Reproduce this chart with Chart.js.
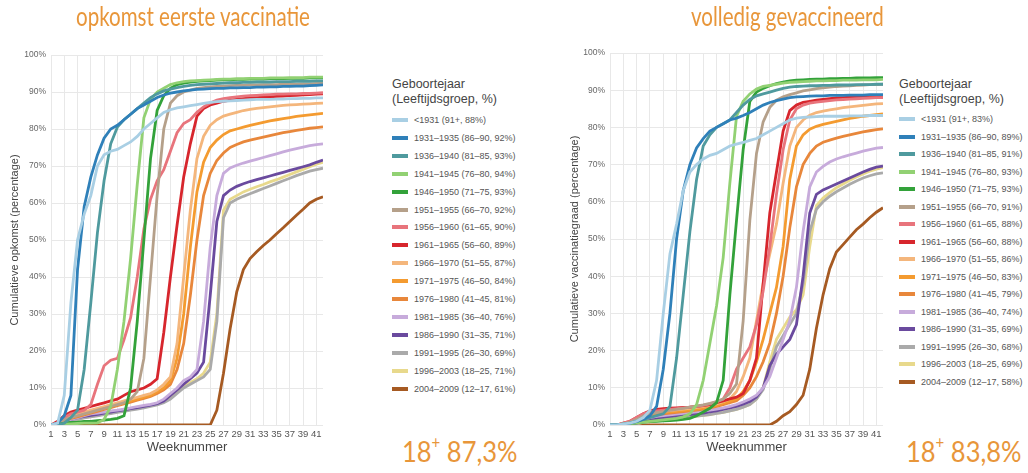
<!DOCTYPE html>
<html>
<head>
<meta charset="utf-8">
<script src="https://cdn.jsdelivr.net/npm/chart.js@4"></script>
<style>
  body { margin:0; width:1028px; height:473px; background:#fff; position:relative; overflow:hidden; font-family:'Liberation Sans', Arial, sans-serif; }
  canvas { position:absolute; top:0; }
  .title { position:absolute; color:#e8963a; font-family:Lato, 'Open Sans', sans-serif; font-size:26px; white-space:nowrap; transform-origin:0 0; transform:scaleX(0.79); }
  .total { position:absolute; color:#e8963a; font-family:Lato, 'Open Sans', sans-serif; font-size:29px; white-space:nowrap; transform-origin:0 0; transform:scaleX(0.88); }
  .total sup { font-size:17px; position:relative; top:-2px; }
  .legend { position:absolute; color:#555; font-size:9px; }
  .legend .head { color:#444; font-size:12.5px; line-height:15px; position:absolute; left:0; white-space:nowrap; }
  .legend .item { position:absolute; left:0; white-space:nowrap; height:12px; line-height:12px; }
  .legend .sw { position:absolute; left:0; top:4px; width:16px; height:4px; }
  .legend .tx { position:absolute; left:22px; top:0; }
</style>
</head>
<body>
<canvas id="left" width="330" height="473" style="left:0"></canvas>
<canvas id="right" width="330" height="473" style="left:560px"></canvas>

<div class="title" style="left:76px; top:0px">opkomst eerste vaccinatie</div>
<div class="title" style="left:691px; top:0px">volledig gevaccineerd</div>
<div class="total" style="left:402px; top:433px">18<sup>+</sup> 87,3%</div>
<div class="total" style="left:906px; top:433px">18<sup>+</sup> 83,8%</div>

<div class="legend" id="legLeft" style="left:392px; top:0"></div>
<div class="legend" id="legRight" style="left:899px; top:0"></div>

<script>
// weken en x-as labels
const weeks = [1,2,3,4,5,6,7,8,9,10,11,12,13,14,15,16,17,18,19,20,21,22,23,24,25,26,27,28,29,30,31,32,33,34,35,36,37,38,39,40,41,42];
const tickWeeks = [1,3,5,7,9,11,13,15,17,19,21,23,25,27,29,31,33,35,37,39,41];
const yTicks = [0,10,20,30,40,50,60,70,80,90,100];

const legendTitle = ['Geboortejaar', '(Leeftijdsgroep, %)'];

const labelsEerste = [
  '<1931 (91+, 88%)', '1931–1935 (86–90, 92%)', '1936–1940 (81–85, 93%)', '1941–1945 (76–80, 94%)',
  '1946–1950 (71–75, 93%)', '1951–1955 (66–70, 92%)', '1956–1960 (61–65, 90%)', '1961–1965 (56–60, 89%)',
  '1966–1970 (51–55, 87%)', '1971–1975 (46–50, 84%)', '1976–1980 (41–45, 81%)', '1981–1985 (36–40, 76%)',
  '1986–1990 (31–35, 71%)', '1991–1995 (26–30, 69%)', '1996–2003 (18–25, 71%)', '2004–2009 (12–17, 61%)'
];
const labelsVolledig = [
  '<1931 (91+, 83%)', '1931–1935 (86–90, 89%)', '1936–1940 (81–85, 91%)', '1941–1945 (76–80, 93%)',
  '1946–1950 (71–75, 93%)', '1951–1955 (66–70, 91%)', '1956–1960 (61–65, 88%)', '1961–1965 (56–60, 88%)',
  '1966–1970 (51–55, 86%)', '1971–1975 (46–50, 83%)', '1976–1980 (41–45, 79%)', '1981–1985 (36–40, 74%)',
  '1986–1990 (31–35, 69%)', '1991–1995 (26–30, 68%)', '1996–2003 (18–25, 69%)', '2004–2009 (12–17, 58%)'
];

// opkomst eerste vaccinatie (cumulatief %, per week)
const eersteLt1931 = [0,0.5,8,33,50,57,62,70,73,74,74.5,75.5,76.5,78,80,81.5,83,84.5,85.2,85.7,86,86.3,86.6,86.9,87.2,87.4,87.5,87.6,87.7,87.8,87.9,88,88,88,88.1,88.1,88.2,88.2,88.3,88.3,88.4,88.4];
const eerste1931 = [0,0.5,2.5,8,42,59,67,73,77.5,80,81,82.5,84,85.5,86.5,87.5,88.5,89.2,89.7,90,90.3,90.5,90.7,90.8,90.9,91,91,91.1,91.1,91.2,91.2,91.3,91.3,91.4,91.4,91.5,91.5,91.6,91.6,91.7,91.8,91.9];
const eerste1936 = [0,0,0.5,2,4,15,33,52,66,76,80.5,82.5,84,85.5,87,88.5,89.5,90.3,90.8,91.2,91.5,91.8,92,92.1,92.2,92.3,92.4,92.5,92.5,92.6,92.6,92.7,92.7,92.7,92.8,92.8,92.8,92.9,92.9,92.9,93,93];
const eerste1941 = [0,0,0.2,0.3,0.4,0.5,0.5,0.6,1.5,5,15,28,45,65,83,88,90,91,92,92.5,92.8,93,93.1,93.2,93.3,93.4,93.5,93.5,93.6,93.6,93.7,93.7,93.7,93.8,93.8,93.8,93.9,93.9,93.9,94,94,94];
const eerste1946 = [0,0.2,0.5,0.7,0.8,1,1,1.2,1.3,1.5,1.8,2.5,10,28,50,72,85,89,91,92,92.4,92.7,92.9,93,93.1,93.2,93.3,93.3,93.4,93.4,93.5,93.5,93.5,93.6,93.6,93.6,93.7,93.7,93.7,93.8,93.8,93.8];
const eerste1951 = [0,0.5,1.5,2,2.5,3,3.5,4,4.5,5,5.5,6,7,9,18,40,62,80,87,89,90,90.5,91,91.2,91.4,91.5,91.6,91.7,91.8,91.8,91.9,91.9,92,92,92,92.1,92.1,92.1,92.2,92.2,92.3,92.3];
const eerste1956 = [0,0.5,2,3,3.5,4,5.5,11,16,17.5,18,23,29,40,53,61,66,69,74,79,81.5,82.5,84.5,86,87,87.8,88.2,88.5,88.7,88.9,89,89.1,89.2,89.3,89.4,89.4,89.5,89.5,89.6,89.6,89.7,89.8];
const eerste1961 = [0,1,2.5,3.5,4,4.5,5,5.5,6,6.5,7,8,9,9.5,10,11,12.5,25,40,54,67,76,83.5,85.5,86.5,87,87.5,87.8,88,88.2,88.4,88.5,88.6,88.7,88.8,88.9,89,89.1,89.2,89.3,89.4,89.5];
const eerste1966 = [0,0.5,1.5,2.5,3,3.5,4,4.5,5,5.5,6,6.5,7,7.5,8,8.5,9.5,11,13,22,40,58,72,78,81,82.5,83.5,84,84.5,85,85.3,85.6,85.8,86,86.2,86.4,86.5,86.6,86.7,86.8,86.9,87];
const eerste1971 = [0,0.5,1.5,2,2.5,3,3.5,4,4.5,5,5.5,6,6.5,7,7.5,8,9,10,12,18,30,48,63,71,75,77,78.5,79.5,80,80.5,81,81.4,81.8,82.2,82.5,82.8,83.1,83.4,83.6,83.8,84,84.2];
const eerste1976 = [0,0.5,1.2,1.8,2.2,2.7,3.2,3.7,4.2,4.7,5.2,5.7,6.2,6.7,7.2,7.7,8.5,9.5,11,15,22,35,50,62,68,71.5,73.5,75,75.8,76.5,77,77.4,77.8,78.2,78.6,79,79.3,79.6,79.9,80.2,80.4,80.6];
const eerste1981 = [0,0.3,1,1.5,2,2.5,3,3.2,3.5,3.8,4,4.3,4.6,5,5.3,5.6,6,7,8.5,10,12,13,15,28,48,62,68,69.5,70.2,70.8,71.3,71.8,72.3,72.8,73.3,73.8,74.3,74.7,75.1,75.5,75.8,76];
const eerste1986 = [0,0.3,1,1.5,2,2.3,2.6,2.9,3.2,3.5,3.8,4.1,4.4,4.7,5,5.4,5.8,6.5,8,9.5,11,12.5,14,17,35,55,62,63.5,64.5,65.2,65.8,66.3,66.8,67.3,67.8,68.3,68.8,69.3,69.8,70.3,71,71.6];
const eerste1991 = [0,0.2,0.8,1.2,1.5,1.9,2.2,2.5,2.8,3.1,3.4,3.7,4,4.3,4.6,5,5.4,6,7,8.5,10,11,12,13,15,28,56,60,61,61.8,62.5,63.2,63.9,64.6,65.3,66,66.7,67.4,68,68.6,69,69.4];
const eerste1996 = [0,0.2,0.8,1.2,1.5,2,2.3,2.6,3,3.3,3.6,4,4.3,4.6,5,5.3,5.7,6.5,7.5,9,10.5,11.5,12.5,14,17,30,58,61,62,63,63.7,64.4,65,65.7,66.3,67,67.7,68.4,69.1,69.8,70.5,71];
const eerste2004 = [0,0,0,0,0,0,0,0,0,0,0,0,0,0,0,0,0,0,0,0,0,0,0,0,0,4,14,26,36,42,45,46.8,48.5,50,51.7,53.3,55,56.7,58.3,60,61,61.7];

// volledig gevaccineerd (cumulatief %, per week)
const volledigLt1931 = [0,0,0.3,0.5,1,2,4,12,30,46,54,63,68,70,71.5,72.5,73,74,75,75.5,76,76.5,77,78,79,80,81,82,82.5,82.7,82.8,82.9,83,83,83,83,83.1,83.1,83.1,83.2,83.2,83.2];
const volledig1931 = [0,0,0.2,0.5,1,1.5,2.5,5,15,30,50,63,70,74.5,77,79,80,81,82,82.5,83.2,84,85,86,86.7,87.2,87.6,88,88.2,88.3,88.4,88.5,88.5,88.6,88.6,88.6,88.7,88.7,88.7,88.8,88.8,88.8];
const volledig1936 = [0,0,0.2,0.5,1,1.5,2,2.5,3,5,18,35,52,66,75,78,80,81,82,84,86,87.5,88.5,89,89.5,90,90.5,90.8,91,91.1,91.2,91.2,91.3,91.3,91.4,91.4,91.4,91.5,91.5,91.5,91.6,91.6];
const volledig1941 = [0,0,0.2,0.4,0.6,0.8,1,1.2,1.4,1.6,1.8,2.2,3,5.5,12,22,32,45,65,83,87,89,90.3,91,91.3,91.6,91.9,92.1,92.2,92.3,92.4,92.5,92.5,92.6,92.6,92.7,92.7,92.7,92.8,92.8,92.8,92.9];
const volledig1946 = [0,0,0.2,0.4,0.6,0.8,0.9,1,1.1,1.2,1.3,1.5,1.8,2.5,3.5,4.5,6,12,35,55,74,87,89.5,90.5,91.2,91.8,92.2,92.5,92.7,92.8,92.9,93,93,93.1,93.1,93.2,93.2,93.3,93.3,93.3,93.4,93.4];
const volledig1951 = [0,0,0.3,0.8,1.5,2.5,3,3.3,3.6,3.9,4.2,4.5,4.8,5.1,5.4,5.8,6.3,7,8.5,11,28,55,73,81.5,85.4,87.3,88.2,88.8,89.3,89.8,90.1,90.4,90.6,90.8,91,91.1,91.2,91.3,91.4,91.5,91.5,91.6];
const volledig1956 = [0,0,0.5,1,2,3,3.5,3.8,4,4.2,4.4,4.6,4.8,5,5.3,5.7,6.2,7,10,15,18,21,27,36,48,62,74,82,85,86,86.5,86.8,87,87.2,87.4,87.5,87.6,87.7,87.8,87.9,88,88];
const volledig1961 = [0,0,0.5,1,2,3,3.8,4.2,4.4,4.5,4.6,4.7,4.8,5,5.2,5.5,6,6.5,7,7.5,8.5,12,18,38,57,68,79,84.5,86,86.7,87,87.3,87.5,87.7,87.9,88,88.1,88.2,88.3,88.4,88.5,88.6];
const volledig1966 = [0,0,0.3,0.8,1.5,2.5,3.2,3.5,3.7,3.9,4.1,4.3,4.5,4.7,5,5.3,5.7,6.3,7,9,13,18,28,38,46,54,65,75,80,82,83.3,84,84.4,84.7,85,85.3,85.5,85.7,85.9,86.1,86.3,86.4];
const volledig1971 = [0,0,0.3,0.7,1.3,2.2,2.8,3.1,3.3,3.5,3.7,3.9,4.1,4.3,4.6,4.9,5.3,5.8,6.4,7,9,12,17,23,30,37,48,66,75,78,79.5,80.3,80.8,81.2,81.6,82,82.4,82.7,83,83.2,83.4,83.6];
const volledig1976 = [0,0,0.3,0.6,1.2,2,2.5,2.8,3,3.2,3.4,3.6,3.8,4,4.3,4.6,5,5.5,6,6.5,8,10,13,17,22,30,40,53,64,70,73,75,76,76.6,77.1,77.6,78,78.4,78.8,79.1,79.4,79.6];
const volledig1981 = [0,0,0.2,0.5,1,1.5,2,2.3,2.5,2.7,2.9,3.1,3.3,3.5,3.7,4,4.3,4.6,5,5.5,6.2,7,8,10,13,18,23,28,37,52,64,68,69.5,70.7,71.5,72.1,72.6,73.1,73.6,74,74.4,74.6];
const volledig1986 = [0,0,0.1,0.3,0.6,1,1.4,1.7,2,2.2,2.4,2.6,2.8,3,3.2,3.5,3.8,4.2,4.6,5,5.6,6.3,7.5,10,16,19,21,23,27,40,57,62,63.2,64,64.8,65.6,66.4,67.2,68,68.7,69.3,69.6];
const volledig1991 = [0,0,0.1,0.2,0.4,0.7,1,1.2,1.4,1.6,1.8,2,2.2,2.4,2.6,2.8,3.1,3.4,3.8,4.2,4.8,5.5,7,9.5,15,21,24,27,30,38,52,58,60,61.5,62.7,63.7,64.7,65.6,66.4,67,67.5,67.8];
const volledig1996 = [0,0,0.1,0.2,0.4,0.7,1,1.2,1.4,1.6,1.8,2,2.2,2.4,2.6,2.8,3.1,3.4,3.8,4.2,4.8,5.5,7,10,17,23,26,29,31,35,48,59,61,62.5,63.8,64.8,65.8,66.7,67.5,68.2,68.8,69.2];
const volledig2004 = [0,0,0,0,0,0,0,0,0,0,0,0,0,0,0,0,0,0,0,0,0,0,0,0,0,1,2.5,3.6,5.5,8,15,26,35,42,46.5,48.5,50.5,52.5,54,55.7,57.2,58.4];

const colors = ['#a9cfe4', '#2f80b9', '#4f9a9e', '#92d173', '#33a23a', '#b5a08a', '#e8747c', '#d7262d',
                '#f4b67c', '#f49b30', '#e8873b', '#c7abdb', '#6a4a9e', '#aaaaaa', '#e8d98c', '#a65a22'];

const eersteSeries = [eersteLt1931, eerste1931, eerste1936, eerste1941, eerste1946, eerste1951, eerste1956, eerste1961,
                      eerste1966, eerste1971, eerste1976, eerste1981, eerste1986, eerste1991, eerste1996, eerste2004];
const volledigSeries = [volledigLt1931, volledig1931, volledig1936, volledig1941, volledig1946, volledig1951, volledig1956, volledig1961,
                        volledig1966, volledig1971, volledig1976, volledig1981, volledig1986, volledig1991, volledig1996, volledig2004];

function drawChart(id, series, labels, yTitle, yWidth, padTop) {
  new Chart(document.getElementById(id), {
    type: 'line',
    data: {
      datasets: series.map((vals, i) => ({
        label: labels[i],
        data: vals.map((v, j) => ({ x: weeks[j], y: v })),
        borderColor: colors[i],
        borderWidth: 2.8,
        pointRadius: 0,
        tension: 0,
        fill: false
      }))
    },
    options: {
      responsive: false,
      animation: false,
      layout: { padding: { top: padTop, right: 7, bottom: 18, left: 0 } },
      plugins: { legend: { display: false }, tooltip: { enabled: false } },
      scales: {
        x: {
          type: 'linear', min: 1, max: 42,
          afterBuildTicks: s => { s.ticks = tickWeeks.map(v => ({ value: v })); },
          afterFit: s => { s.height = 30; },
          grid: { color: '#e8e8e8', drawTicks: false },
          border: { display: false },
          ticks: { font: { size: 9.5 }, color: '#555', padding: 4, maxRotation: 0, autoSkip: false },
          title: { display: true, text: 'Weeknummer', font: { size: 13 }, color: '#444', padding: { top: 0, bottom: 0 } }
        },
        y: {
          min: 0, max: 100,
          afterBuildTicks: s => { s.ticks = yTicks.map(v => ({ value: v })); },
          afterFit: s => { s.width = yWidth; },
          grid: { color: '#e8e8e8', drawTicks: false },
          border: { display: false },
          ticks: { font: { size: 8.5 }, color: '#666', padding: 5, callback: v => v + '%' },
          title: { display: true, text: yTitle, font: { size: 11 }, color: '#444', padding: { top: 8, bottom: 0 } }
        }
      }
    }
  });
}

function buildLegend(id, labels, firstY, step) {
  const box = document.getElementById(id);
  legendTitle.forEach((t, k) => {
    const d = document.createElement('div');
    d.className = 'head';
    d.style.top = (77 + k * 15) + 'px';
    d.textContent = t;
    box.appendChild(d);
  });
  labels.forEach((lab, i) => {
    const it = document.createElement('div');
    it.className = 'item';
    it.style.top = (firstY + i * step - 6) + 'px';
    const sw = document.createElement('span');
    sw.className = 'sw';
    sw.style.background = colors[i];
    const tx = document.createElement('span');
    tx.className = 'tx';
    tx.textContent = lab;
    it.appendChild(sw);
    it.appendChild(tx);
    box.appendChild(it);
  });
}

drawChart('left', eersteSeries, labelsEerste, 'Cumulatieve opkomst (percentage)', 51, 55);
drawChart('right', volledigSeries, labelsVolledig, 'Cumulatieve vaccinatiegraad (percentage)', 50, 53);
buildLegend('legLeft', labelsEerste, 120, 17.9);
buildLegend('legRight', labelsVolledig, 119, 17.5);
</script>
</body>
</html>
